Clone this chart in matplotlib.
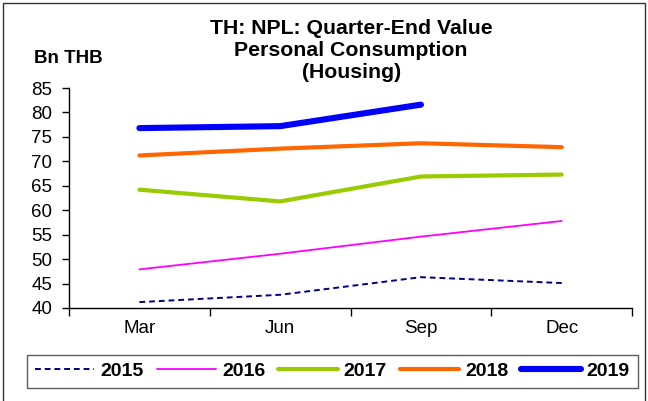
import numpy as np
import matplotlib
matplotlib.use('Agg')
import matplotlib.pyplot as plt
from matplotlib.patches import Rectangle

plt.rcParams.update({
    'font.family': ['Liberation Sans', 'DejaVu Sans'],
    'font.size': 13.5,
})

# -------------------------------------------------
# Data: NPL quarter-end value, Bn THB
# -------------------------------------------------
quarters = ['Mar', 'Jun', 'Sep', 'Dec']
npl_2015 = [41.2, 42.7, 46.3, 45.1]
npl_2016 = [47.9, 51.1, 54.6, 57.8]
npl_2017 = [64.2, 61.8, 66.9, 67.3]
npl_2018 = [71.2, 72.6, 73.7, 72.9]
npl_2019 = [76.8, 77.2, 81.6]

series = [
    ('2015', npl_2015, dict(color='#000080', linewidth=1.4, linestyle=(0, (3, 2)))),
    ('2016', npl_2016, dict(color='#FF00FF', linewidth=1.3)),
    ('2017', npl_2017, dict(color='#99CC00', linewidth=3.0)),
    ('2018', npl_2018, dict(color='#FF6600', linewidth=3.0)),
    ('2019', npl_2019, dict(color='#0000FF', linewidth=4.4)),
]

fig = plt.figure(figsize=(6.48, 4.01), dpi=100)
ax = fig.add_axes([0.1065, 0.232, 0.869, 0.5485])

centers = np.arange(len(quarters)) + 0.5
for label, values, style in series:
    ax.plot(centers[:len(values)], values, label=label,
            solid_capstyle='round', **style)

ax.set_xlim(0, len(quarters))
ax.set_ylim(40, 85)
ax.set_yticks(np.arange(40, 86, 5))

# category boundaries get the tick marks, labels sit between them
ax.set_xticks(np.arange(len(quarters) + 1))
ax.set_xticklabels([])
ax.set_xticks(centers, minor=True)
ax.set_xticklabels(quarters, minor=True)
ax.tick_params(axis='x', which='major', direction='out', length=6, width=1)
ax.tick_params(axis='x', which='minor', length=0, pad=9)
ax.tick_params(axis='y', direction='out', length=5, width=1, pad=7)

for side in ('top', 'right'):
    ax.spines[side].set_visible(False)
for side in ('left', 'bottom'):
    ax.spines[side].set_linewidth(1)

fig.text(0.542, 0.952, 'TH: NPL: Quarter-End Value\nPersonal Consumption\n(Housing)',
         ha='center', va='top', fontsize=15.3, fontweight='bold', linespacing=1.2)
fig.text(0.052, 0.853, 'Bn THB', ha='left', va='center',
         fontsize=13.5, fontweight='bold')

leg = fig.legend(loc='center', bbox_to_anchor=(0.513, 0.074), ncol=5,
                 frameon=True, fancybox=False, edgecolor='#333333',
                 prop={'weight': 'bold', 'size': 14}, handlelength=3.05,
                 columnspacing=0.67, handletextpad=0.31, borderpad=0.4)
leg.get_frame().set_linewidth(1)

# outer chart border
fig.patches.append(Rectangle((0.005, -0.01), 0.991, 1.003, transform=fig.transFigure,
                             fill=False, edgecolor='#333333', linewidth=1))

plt.savefig('out.png', dpi=100)
plt.close(fig)
